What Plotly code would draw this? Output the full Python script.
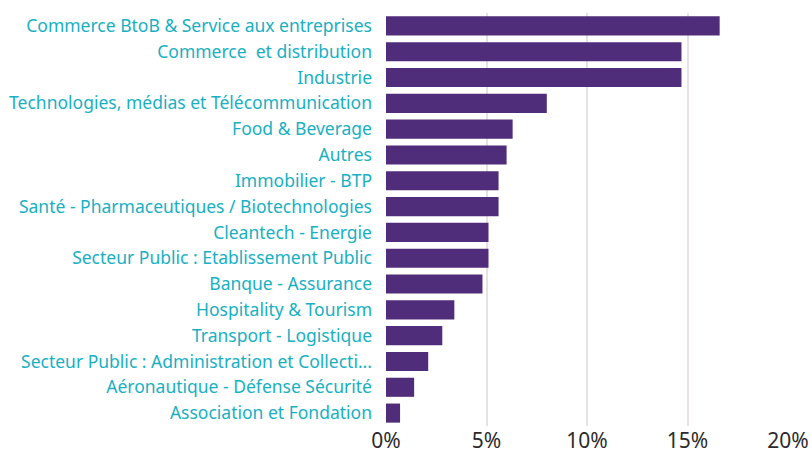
import plotly.graph_objects as go

sectors = [
    "Commerce BtoB & Service aux entreprises",
    "Commerce  et distribution",
    "Industrie",
    "Technologies, médias et Télécommunication",
    "Food & Beverage",
    "Autres",
    "Immobilier - BTP",
    "Santé - Pharmaceutiques / Biotechnologies",
    "Cleantech - Energie",
    "Secteur Public : Etablissement Public",
    "Banque - Assurance",
    "Hospitality & Tourism",
    "Transport - Logistique",
    "Secteur Public : Administration et Collecti...",
    "Aéronautique - Défense Sécurité",
    "Association et Fondation",
]
shares = [16.6, 14.7, 14.7, 8.0, 6.3, 6.0, 5.6, 5.6, 5.1, 5.1, 4.8, 3.4, 2.8, 2.1, 1.4, 0.7]
x_ticks = [0, 5, 10, 15, 20]
x_tick_labels = ["0%", "5%", "10%", "15%", "20%"]

fig = go.Figure(go.Bar(
    x=shares,
    y=sectors,
    orientation="h",
    marker_color="#502d7b",
    marker_line_width=0,
))

fig.update_layout(
    width=812,
    height=454,
    margin=dict(l=386, r=23, t=13, b=28),
    plot_bgcolor="white",
    paper_bgcolor="white",
    bargap=0.26,
    showlegend=False,
    font=dict(family="Noto Sans"),
)
fig.update_yaxes(
    autorange="reversed",
    tickfont=dict(color="#18b0c2", size=17.5),
    ticks="",
    showgrid=False,
    ticklabelstandoff=13,
    automargin=False,
)
fig.update_xaxes(
    range=[0, 20.05],
    tickvals=x_ticks,
    ticktext=x_tick_labels,
    tickfont=dict(color="#2b2b2b", size=21),
    showgrid=True,
    gridcolor="#e6e2df",
    gridwidth=2,
    zeroline=False,
    showline=False,
    ticks="",
    automargin=False,
)

# page has a default body margin, drop it so the figure fills the window
fig.write_html(
    "out.html",
    config={"displayModeBar": False},
    post_script="document.body.style.margin='0';",
)
